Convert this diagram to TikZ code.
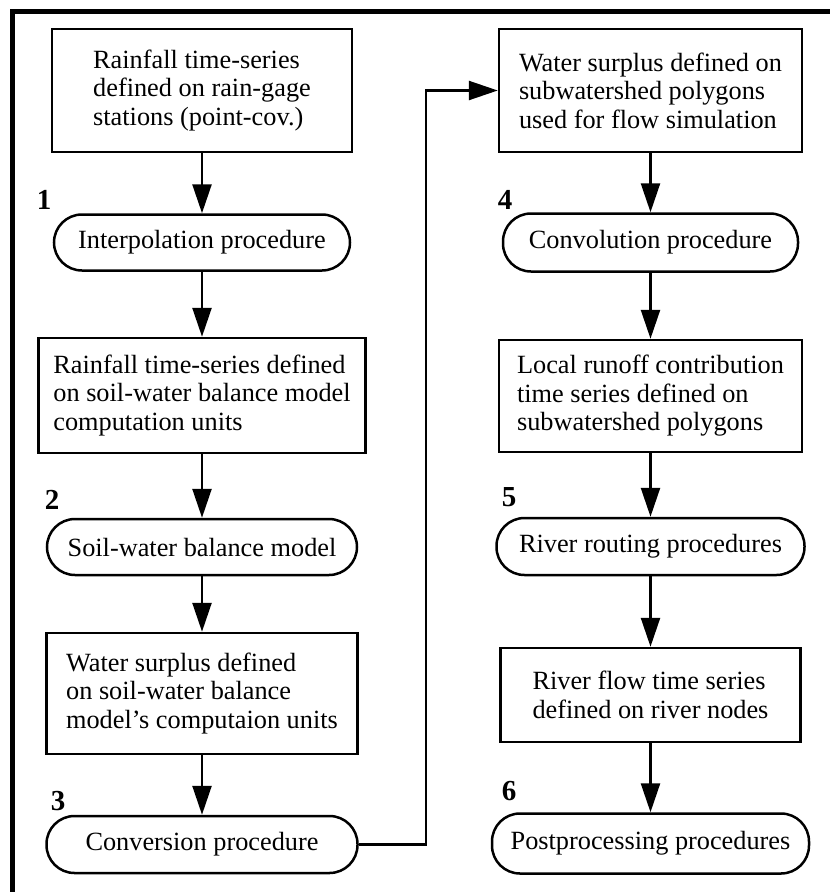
\documentclass[tikz,border=0pt]{standalone}
\usepackage{fontspec}
\setmainfont{Liberation Serif}
\usetikzlibrary{arrows.meta}

\begin{document}
\begin{tikzpicture}[x=1pt,y=-1pt,
	databox/.style={draw,line width=2.5pt,rectangle,align=left,inner sep=0,font=\fontsize{26.3}{28.5}\selectfont},
	procbox/.style={draw,line width=2.5pt,rectangle,rounded corners=28pt,inner sep=0,font=\fontsize{26.3}{28.5}\selectfont},
	stepno/.style={inner sep=0,font=\fontsize{29}{30}\selectfont\bfseries},
	flow/.style={line width=2.5pt,-{Triangle[length=29pt,width=19pt]}}]
	\useasboundingbox (0,0) rectangle (830,892);
	\draw[line width=5pt] (12.5,895) -- (12.5,11) -- (833,11);
	\node[databox,minimum width=300pt,minimum height=123pt] (rain) at (202,90.5) {Rainfall time-series\\defined on rain-gage\\stations (point-cov.)};
	\node[procbox,minimum width=296pt,minimum height=56pt] (interp) at (202,242.5) {Interpolation procedure};
	\node[databox,minimum width=327pt,minimum height=115pt] (rainunit) at (202,395.5) {Rainfall time-series defined\\on soil-water balance model\\computation units};
	\node[procbox,minimum width=310pt,minimum height=56pt] (soil) at (202,547) {Soil-water balance model};
	\node[databox,minimum width=311pt,minimum height=121pt] (surplus) at (202,693.5) {Water surplus defined\\on soil-water balance\\model's computaion units};
	\node[procbox,minimum width=311pt,minimum height=57pt] (conv) at (202,844.5) {Conversion procedure};
	\node[databox,minimum width=303pt,minimum height=123pt] (subws) at (650.5,90.5) {Water surplus defined on\\subwatershed polygons\\used for flow simulation};
	\node[procbox,minimum width=295pt,minimum height=58pt] (convol) at (650.5,242.5) {Convolution procedure};
	\node[databox,minimum width=303pt,minimum height=112pt] (local) at (650.5,396) {Local runoff contribution\\time series defined on\\subwatershed polygons};
	\node[procbox,minimum width=308pt,minimum height=57pt] (routing) at (650.5,546.5) {River routing procedures};
	\node[databox,minimum width=300pt,minimum height=94pt] (riverflow) at (650.5,695) {River flow time series\\defined on river nodes};
	\node[procbox,minimum width=317pt,minimum height=60pt] (post) at (650.5,843.5) {Postprocessing procedures};
	\node[stepno] (n1) at (44,200) {1};
	\node[stepno] (n2) at (52,500) {2};
	\node[stepno] (n3) at (58,801) {3};
	\node[stepno] (n4) at (505,200) {4};
	\node[stepno] (n5) at (509,497) {5};
	\node[stepno] (n6) at (509,791) {6};
	\coordinate (bend) at (426,0);
	\draw[flow] (rain) -- (interp);
	\draw[flow] (interp) -- (rainunit);
	\draw[flow] (rainunit) -- (soil);
	\draw[flow] (soil) -- (surplus);
	\draw[flow] (surplus) -- (conv);
	\draw[flow] (conv.east) -- (bend |- conv.east) -- (bend |- subws.west) -- (subws.west);
	\draw[flow] (subws) -- (convol);
	\draw[flow] (convol) -- (local);
	\draw[flow] (local) -- (routing);
	\draw[flow] (routing) -- (riverflow);
	\draw[flow] (riverflow) -- (post);
\end{tikzpicture}
\end{document}
